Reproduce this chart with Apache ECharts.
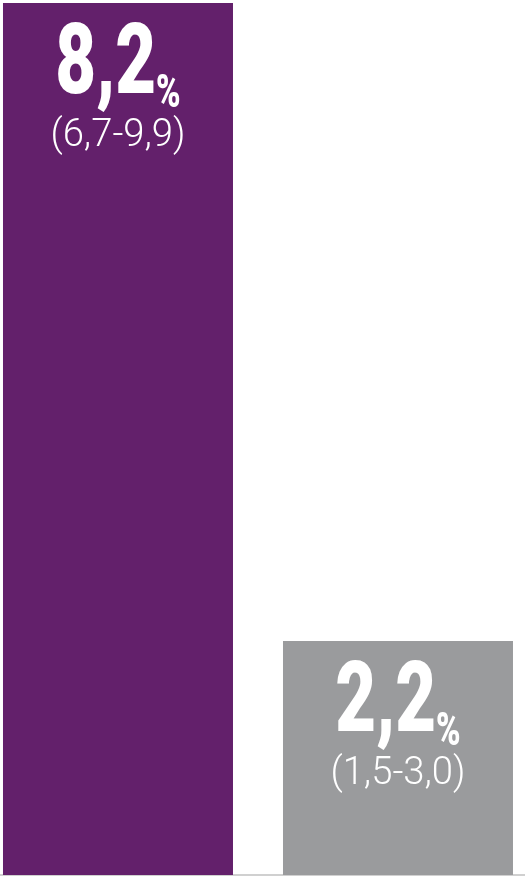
<!DOCTYPE html>
<html><head><meta charset="utf-8">
<script src="https://cdn.jsdelivr.net/npm/echarts@6/dist/echarts.min.js"></script>
<style>html,body{margin:0;padding:0;background:#fff}#c{width:525px;height:877px}</style>
</head><body><div id="c"></div>
<script>
var categories = [0, 1];
var values = [8.2, 2.2];
var ciLow = [6.7, 1.5];
var ciHigh = [9.9, 3.0];
var colors = ['#63206b', '#9a9b9d'];

function fmt(v){ return v.toFixed(1).replace('.', ','); }

var chart = echarts.init(document.getElementById('c'));
chart.setOption({
  animation: false,
  grid: { left: 0, right: 0, top: 3, bottom: 2 },
  xAxis: {
    type: 'value', min: -0.4214, max: 1.4536,
    axisLine: { show: true, onZero: false, lineStyle: { color: '#d0d0d0', width: 2 } },
    axisTick: { show: false }, axisLabel: { show: false }, splitLine: { show: false }
  },
  yAxis: { type: 'value', min: 0, max: 8.2, show: false, splitLine: { show: false } },
  series: [{
    type: 'bar', barWidth: 230,
    data: values.map(function(v, i){
      return { value: [categories[i], v], itemStyle: { color: colors[i] } };
    })
  }, {
    type: 'custom', z: 5,
    encode: { x: 0, y: 1 },
    data: values.map(function(v, i){ return [categories[i], v, ciLow[i], ciHigh[i]]; }),
    renderItem: function(params, api){
      var p = api.coord([api.value(0), api.value(1)]);
      return {
        type: 'group',
        children: [{
          type: 'text', x: p[0], y: p[1] + 65, scaleX: 0.72,
          style: {
            text: '{big|' + fmt(api.value(1)) + '}{pct|%}',
            align: 'center', verticalAlign: 'middle',
            rich: {
              big: { fontFamily: 'Roboto', fontWeight: 900, fontSize: 98, lineHeight: 100, fill: '#fff' },
              pct: { fontFamily: 'Roboto', fontWeight: 900, fontSize: 46, lineHeight: 60, verticalAlign: 'bottom', fill: '#fff' }
            }
          }
        }, {
          type: 'text', x: p[0], y: p[1] + 133, scaleX: 0.98,
          style: {
            text: '(' + fmt(api.value(2)) + '-' + fmt(api.value(3)) + ')',
            font: '300 39px Roboto', fill: '#fff',
            align: 'center', verticalAlign: 'middle'
          }
        }]
      };
    }
  }]
});
</script></body></html>
